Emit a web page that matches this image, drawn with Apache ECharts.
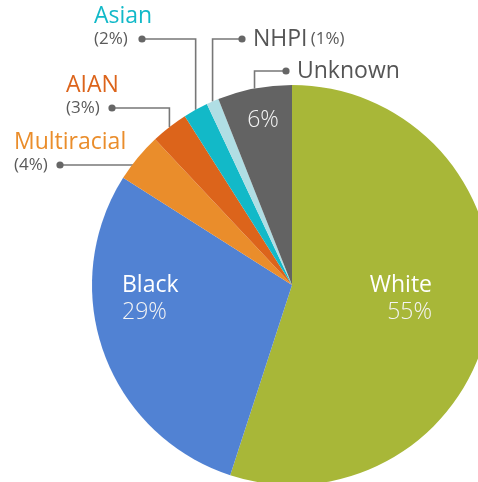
<!DOCTYPE html>
<html><head><meta charset="utf-8">
<script src="https://cdn.jsdelivr.net/npm/echarts@6/dist/echarts.min.js"></script>
<style>html,body{margin:0;padding:0;background:#fff}#c{width:478px;height:482px}</style>
</head><body><div id="c"></div>
<script>
// Data
const categories = ['White', 'Black', 'Multiracial', 'AIAN', 'Asian', 'NHPI', 'Unknown'];
const shares = [55, 29, 4, 3, 2, 1, 6];
const sliceColors = ['#a8b738', '#5182d3', '#ea8d2b', '#dc641b', '#12b9c8', '#b0dee4', '#636363'];
const nameColors = ['#ffffff', '#ffffff', '#ea8d2b', '#dc641b', '#12b9c8', '#555555', '#555555'];

// Layout
const CX = 292, CY = 285, R = 200;
const FONT = '"Open Sans", "Noto Sans", sans-serif';
const GRAY = '#5a5a5a';
const LINE = '#777777';
const outer = {
  2: {tx: 14, dotX: 60, dotY: 165, horiz: true},
  3: {tx: 66, dotX: 112, dotY: 108},
  4: {tx: 94, dotX: 142, dotY: 39},
  5: {tx: 253, dotX: 242, dotY: 39, inline: true},
  6: {tx: 297, dotX: 286, dotY: 71, inline: true}
};
const inner = {
  0: {x: 432, y: 299, align: 'right'},
  1: {x: 122, y: 299, align: 'left'},
  6: {x: 263, y: 120, align: 'center'}
};

const total = shares.reduce((a, b) => a + b, 0);
function midPoint(i) {
  let cum = 0;
  for (let k = 0; k < i; k++) cum += shares[k];
  const th = (cum + shares[i] / 2) / total * Math.PI * 2;
  return [CX + R * Math.sin(th), CY - R * Math.cos(th)];
}

const chart = echarts.init(document.getElementById('c'), null, {renderer: 'canvas'});

const dataA = categories.map((c, i) => ({
  name: c, value: shares[i],
  itemStyle: {color: sliceColors[i]},
  label: {show: !!outer[i]},
  labelLine: {show: !!outer[i]}
}));
const dataB = categories.map((c, i) => ({
  name: c, value: shares[i],
  label: {show: !!inner[i]}
}));

const dots = Object.keys(outer).map(k => ({
  type: 'circle', shape: {cx: outer[k].dotX, cy: outer[k].dotY, r: 3.6},
  style: {fill: '#666666'}, z: 100
}));

const richA = {p: {fontFamily: FONT, fontSize: 17, color: GRAY, lineHeight: 22}};
categories.forEach((c, i) => {
  richA['n' + i] = {fontFamily: FONT, fontSize: 23, color: nameColors[i], lineHeight: 24};
});

chart.setOption({
  backgroundColor: '#ffffff',
  animation: false,
  graphic: dots,
  series: [
    {
      type: 'pie',
      center: [CX, CY],
      radius: R,
      startAngle: 90,
      clockwise: true,
      avoidLabelOverlap: false,
      data: dataA,
      itemStyle: {borderWidth: 0},
      emphasis: {disabled: true},
      label: {
        position: 'outside',
        fontFamily: FONT,
        formatter: p => {
          const i = p.dataIndex;
          const o = outer[i];
          if (!o) return '';
          if (o.inline) {
            return i === 5 ? '{n' + i + '|' + p.name + '} {p|(' + p.value + '%)}' : '{n' + i + '|' + p.name + '}';
          }
          return '{n' + i + '|' + p.name + '}\n{p|(' + p.value + '%)}';
        },
        rich: richA
      },
      labelLine: {lineStyle: {color: LINE, width: 1.6}, length: 10, length2: 10},
      labelLayout: p => {
        const o = outer[p.dataIndex];
        if (!o) return {};
        let pts;
        if (o.horiz) {
          const ex = CX - Math.sqrt(R * R - (CY - o.dotY) * (CY - o.dotY)) + 1;
          pts = [[ex, o.dotY], [ex, o.dotY], [o.dotX, o.dotY]];
        } else {
          const s = midPoint(p.dataIndex);
          pts = [s, [s[0], o.dotY], [o.dotX, o.dotY]];
        }
        return {
          x: o.tx,
          y: o.inline ? o.dotY : o.dotY + 11,
          align: 'left',
          verticalAlign: o.inline ? 'middle' : 'bottom',
          labelLinePoints: pts
        };
      }
    },
    {
      type: 'pie',
      center: [CX, CY],
      radius: R,
      startAngle: 90,
      clockwise: true,
      silent: true,
      avoidLabelOverlap: false,
      data: dataB,
      itemStyle: {color: 'rgba(0,0,0,0)'},
      labelLine: {show: false},
      label: {
        position: 'inside',
        formatter: p => {
          if (!inner[p.dataIndex]) return '';
          return p.dataIndex === 6 ? '{q|' + p.value + '%}' : '{n|' + p.name + '}\n{q|' + p.value + '%}';
        },
        rich: {
          n: {fontFamily: FONT, fontSize: 23, color: '#ffffff', lineHeight: 27},
          q: {fontFamily: FONT, fontSize: 23, fontWeight: 300, color: '#f4f4f4', lineHeight: 27}
        }
      },
      labelLayout: p => {
        const o = inner[p.dataIndex];
        if (!o) return {};
        return {x: o.x, y: o.y, align: o.align, verticalAlign: 'middle'};
      }
    }
  ]
});
</script>
</body></html>
